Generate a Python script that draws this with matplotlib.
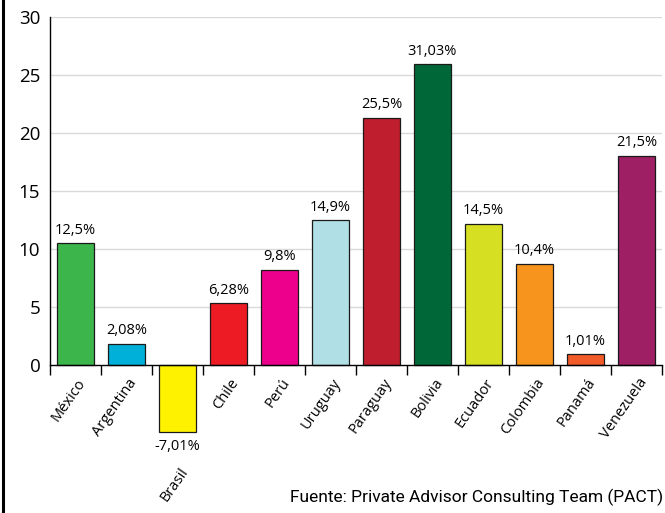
import matplotlib
matplotlib.use("Agg")
import matplotlib.pyplot as plt
from matplotlib.lines import Line2D

countries = ["México", "Argentina", "Brasil", "Chile", "Perú", "Uruguay",
             "Paraguay", "Bolivia", "Ecuador", "Colombia", "Panamá", "Venezuela"]
bar_values = [10.45, 1.77, -5.8, 5.28, 8.2, 12.46, 21.3, 25.9, 12.15, 8.7, 0.9, 18.0]
labels = ["12,5%", "2,08%", "-7,01%", "6,28%", "9,8%", "14,9%",
          "25,5%", "31,03%", "14,5%", "10,4%", "1,01%", "21,5%"]
colors = ["#3cb54a", "#00b0d8", "#fff200", "#ed1c24", "#ec008c", "#b0dfe5",
          "#be1e2d", "#006838", "#d7df23", "#f7941d", "#f15a29", "#9e1f63"]
yticks = [0, 5, 10, 15, 20, 25, 30]
source = "Fuente: Private Advisor Consulting Team (PACT)"

plt.rcParams['font.family'] = ['Open Sans', 'DejaVu Sans']

W, H = 665, 513
fig = plt.figure(figsize=(W / 100, H / 100), dpi=100)
ax = fig.add_axes([50 / W, (H - 364.5) / H, 612 / W, (364.5 - 17) / H])

x = [i + 0.5 for i in range(len(countries))]
bars = ax.bar(x, bar_values, width=0.72, color=colors, edgecolor="#1a1a1a",
              linewidth=0.9, clip_on=False, zorder=3)

ax.set_xlim(0, len(countries))
ax.set_ylim(0, 30)
ax.set_yticks(yticks)
ax.set_yticklabels([str(t) for t in yticks], fontsize=13.5)
ax.tick_params(axis="y", length=0, pad=7)
ax.set_xticks(range(len(countries) + 1))
ax.set_xticklabels([])
ax.tick_params(axis="x", direction="out", length=7.2, width=1.0, color="black")

for y in yticks[1:]:
    ax.axhline(y, color="#d9d9d9", linewidth=1.0, zorder=1)

for s in ["top", "right"]:
    ax.spines[s].set_visible(False)
for s in ["left", "bottom"]:
    ax.spines[s].set_color("black")
    ax.spines[s].set_linewidth(1.0)
    ax.spines[s].set_zorder(4)

for xi, v, lab, name in zip(x, bar_values, labels, countries):
    if v >= 0:
        ax.annotate(lab, (xi, v), xytext=(0, 4), textcoords="offset points",
                    ha="center", va="bottom", fontsize=10.5,
                    annotation_clip=False)
        ty, off = 0, -8
    else:
        ax.annotate(lab, (xi, v), xytext=(0, -5), textcoords="offset points",
                    ha="center", va="top", fontsize=10.5,
                    annotation_clip=False)
        ty, off = v, -24
    ax.annotate(name, (xi, ty), xytext=(1, off),
                textcoords="offset points", ha="right", va="top",
                rotation=55, rotation_mode="anchor", fontsize=10.5,
                annotation_clip=False)

fig.text(663 / W, (H - 502) / H, source, ha="right", va="baseline",
         fontsize=12.5, family=["Roboto", "DejaVu Sans"])

fig.add_artist(Line2D([3 / W, 3 / W], [0, 1], transform=fig.transFigure,
                      color="black", linewidth=2.2))

fig.savefig("out.png", dpi=100)
